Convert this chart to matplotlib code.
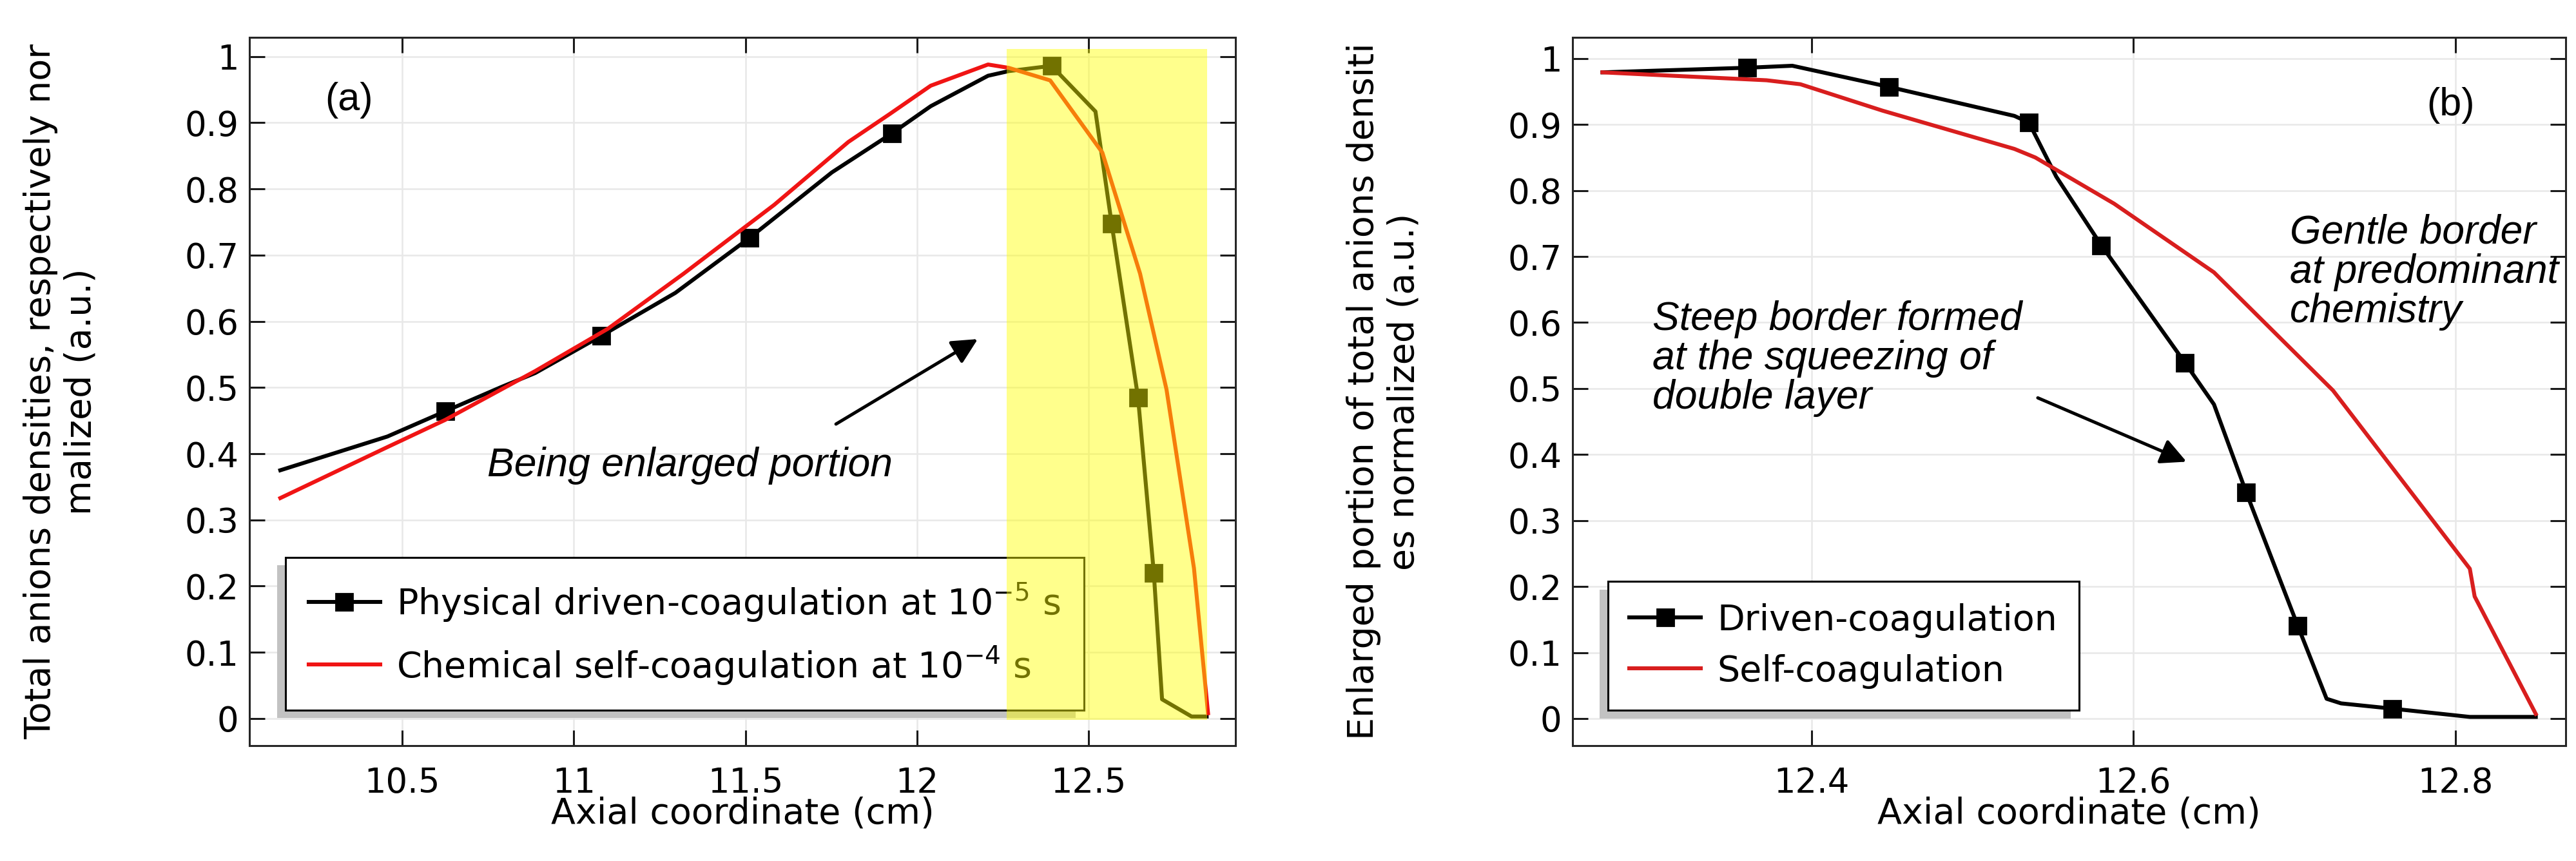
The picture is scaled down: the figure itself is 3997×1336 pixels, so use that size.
import matplotlib
matplotlib.use('Agg')
import matplotlib.pyplot as plt
from matplotlib.patches import Rectangle

# ---- panel (a) data ----
x_phys = [10.145, 10.457, 10.625, 10.79, 10.888, 11.08, 11.296, 11.512, 11.752, 11.927,
          12.04, 12.207, 12.267, 12.392, 12.52, 12.567, 12.644, 12.69, 12.714, 12.80, 12.844]
y_phys = [0.375, 0.426, 0.464, 0.501, 0.522, 0.578, 0.643, 0.726, 0.825, 0.884,
          0.925, 0.971, 0.978, 0.986, 0.917, 0.748, 0.485, 0.220, 0.029, 0.003, 0.003]
mark_phys = [2, 5, 7, 9, 13, 15, 16, 17]

x_chem = [10.145, 10.457, 10.625, 10.888, 11.10, 11.32, 11.584, 11.80, 11.92, 12.04,
          12.207, 12.267, 12.388, 12.54, 12.65, 12.727, 12.807, 12.848]
y_chem = [0.333, 0.410, 0.451, 0.525, 0.589, 0.672, 0.776, 0.871, 0.913, 0.956,
          0.988, 0.983, 0.964, 0.855, 0.672, 0.497, 0.227, 0.008]

# ---- panel (b) data ----
x_drv = [12.270, 12.360, 12.388, 12.448, 12.526, 12.535, 12.552, 12.580, 12.632, 12.650,
         12.670, 12.702, 12.720, 12.729, 12.761, 12.809, 12.850]
y_drv = [0.979, 0.986, 0.989, 0.957, 0.913, 0.903, 0.821, 0.717, 0.539, 0.476,
         0.343, 0.141, 0.030, 0.023, 0.015, 0.0025, 0.0025]
mark_drv = [1, 3, 5, 7, 8, 10, 11, 14]

x_self = [12.270, 12.372, 12.393, 12.444, 12.526, 12.539, 12.588, 12.650, 12.724,
          12.809, 12.812, 12.850]
y_self = [0.979, 0.967, 0.961, 0.921, 0.863, 0.850, 0.780, 0.676, 0.497,
          0.227, 0.185, 0.007]

yticks = [0, 0.1, 0.2, 0.3, 0.4, 0.5, 0.6, 0.7, 0.8, 0.9, 1]
ytick_labels = ['0', '0.1', '0.2', '0.3', '0.4', '0.5', '0.6', '0.7', '0.8', '0.9', '1']
xticks_a = [10.5, 11, 11.5, 12, 12.5]
xtick_labels_a = ['10.5', '11', '11.5', '12', '12.5']
xticks_b = [12.4, 12.6, 12.8]
xtick_labels_b = ['12.4', '12.6', '12.8']

RED_A = '#f01414'
RED_B = '#d81e1e'
ITAL = dict(family='Liberation Sans', style='italic', fontsize=22.5)
ARROW = dict(arrowstyle='-|>', color='black', lw=1.8, mutation_scale=30)

fig = plt.figure(figsize=(19.99, 6.68), dpi=200)
ax1 = fig.add_axes([0.0968, 0.134, 0.3827, 0.8226])
ax2 = fig.add_axes([0.6103, 0.134, 0.3854, 0.8226])


def style_axes(ax, xticks, xlabels):
    ax.set_xticks(xticks)
    ax.set_xticklabels(xlabels)
    ax.set_yticks(yticks)
    ax.set_yticklabels(ytick_labels)
    ax.tick_params(direction='in', length=8.5, width=1.1, labelsize=19,
                   top=True, right=True, color='0.1')
    ax.tick_params(axis='x', pad=11.5)
    ax.tick_params(axis='y', pad=6)
    ax.grid(True, color='0.91', lw=0.9)
    ax.set_axisbelow(True)
    for s in ax.spines.values():
        s.set_linewidth(1.1)
        s.set_color('0.15')
    ax.set_xlabel('Axial coordinate (cm)', fontsize=20, labelpad=-2)


# ---- (a) ----
ax1.plot(x_phys, y_phys, color='black', lw=2.2, marker='s', markersize=9.5,
         markevery=mark_phys, label='Physical driven-coagulation at 10$^{-5}$ s', zorder=3)
ax1.plot(x_chem, y_chem, color=RED_A, lw=2.2,
         label='Chemical self-coagulation at 10$^{-4}$ s', zorder=3)
ax1.set_xlim(10.055, 12.928)
ax1.set_ylim(-0.041, 1.029)
style_axes(ax1, xticks_a, xtick_labels_a)
ax1.set_ylabel('Total anions densities, respectively nor\nmalized (a.u.)', fontsize=20)
ax1.yaxis.label.set_va('center')
ax1.yaxis.set_label_coords(-0.191, 0.5)

leg1 = ax1.legend(loc='lower left', bbox_to_anchor=(0.0364, 0.05), borderaxespad=0,
                  fontsize=20, frameon=True, fancybox=False, edgecolor='black',
                  borderpad=0.65, labelspacing=0.55, handlelength=2.0, handletextpad=0.45,
                  shadow={'ox': -4.5, 'oy': -4.2, 'facecolor': '0.76', 'edgecolor': 'none', 'alpha': 1})
leg1.get_frame().set_linewidth(1.1)
leg1.set_zorder(5)

ax1.add_patch(Rectangle((12.261, -0.002), 0.585, 1.013, facecolor=(1, 1, 0),
                        edgecolor='none', alpha=0.45, zorder=6))

ax1.text(10.346, 0.934, '(a)', fontsize=22, family='Liberation Sans', ha='center', va='center')
ax1.text(11.338, 0.382, 'Being enlarged portion', ha='center', va='center', **ITAL)
ax1.annotate('', xy=(12.186, 0.576), xytext=(11.755, 0.442), arrowprops=ARROW)

# ---- (b) ----
ax2.plot(x_drv, y_drv, color='black', lw=2.2, marker='s', markersize=9.5,
         markevery=mark_drv, label='Driven-coagulation', zorder=3)
ax2.plot(x_self, y_self, color=RED_B, lw=2.2, label='Self-coagulation', zorder=3)
ax2.set_xlim(12.2514, 12.8685)
ax2.set_ylim(-0.041, 1.032)
style_axes(ax2, xticks_b, xtick_labels_b)
ax2.set_ylabel('Enlarged portion of total anions densiti\nes normalized (a.u.)', fontsize=20)
ax2.yaxis.label.set_va('center')
ax2.yaxis.set_label_coords(-0.19, 0.5)

leg2 = ax2.legend(loc='lower left', bbox_to_anchor=(0.0357, 0.05), borderaxespad=0,
                  fontsize=20, frameon=True, fancybox=False, edgecolor='black',
                  borderpad=0.6, labelspacing=0.45, handlelength=2.0, handletextpad=0.45,
                  shadow={'ox': -4.5, 'oy': -4.5, 'facecolor': '0.76', 'edgecolor': 'none', 'alpha': 1})
leg2.get_frame().set_linewidth(1.1)

ax2.text(12.797, 0.929, '(b)', fontsize=22, family='Liberation Sans', ha='center', va='center')
ax2.text(12.301, 0.634, 'Steep border formed\nat the squeezing of\ndouble layer',
         ha='left', va='top', linespacing=1.05, **ITAL)
ax2.text(12.697, 0.765, 'Gentle border\nat predominant\nchemistry',
         ha='left', va='top', linespacing=1.05, **ITAL)
ax2.annotate('', xy=(12.635, 0.387), xytext=(12.5385, 0.488), arrowprops=ARROW)

fig.savefig('out.png', dpi=200)
